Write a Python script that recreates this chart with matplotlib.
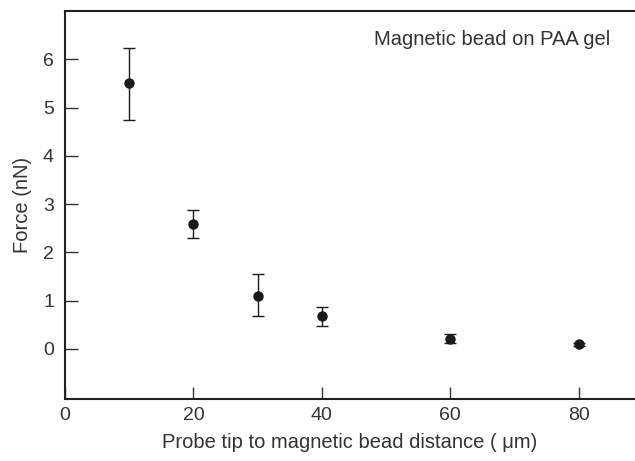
import matplotlib
matplotlib.use("Agg")
import matplotlib.pyplot as plt

distance = [10, 20, 30, 40, 60, 80]
force = [5.50, 2.58, 1.10, 0.68, 0.20, 0.09]
err_upper = [6.24, 2.87, 1.55, 0.86, 0.30, 0.13]
err_lower = [4.75, 2.29, 0.67, 0.48, 0.12, 0.06]
x_ticks = [0, 20, 40, 60, 80]
y_ticks = [0, 1, 2, 3, 4, 5, 6]

plt.rcParams['font.family'] = ['Liberation Sans', 'DejaVu Sans']
fig = plt.figure(figsize=(6.35, 4.61), dpi=100)
ax = fig.add_axes([0.1024, 0.1345, 0.8976, 0.8415])

yerr = [[f - lo for f, lo in zip(force, err_lower)],
        [hi - f for f, hi in zip(force, err_upper)]]
ax.errorbar(distance, force, yerr=yerr, fmt='o', color='#1a1a1a', ms=6.5,
            elinewidth=1.0, capsize=4, capthick=1.0)

ax.set_xlim(0, 88.8)
ax.set_ylim(-1.04, 7.0)
ax.set_xticks(x_ticks)
ax.set_yticks(y_ticks)
ax.spines['right'].set_visible(False)
for s in ['left', 'bottom', 'top']:
    ax.spines[s].set_linewidth(1.5)
    ax.spines[s].set_color('#222222')
ax.tick_params(direction='in', length=9, width=1.0, colors='#333333',
               labelsize=14, pad=6, top=False, right=False)
ax.tick_params(axis='y', pad=8)

ax.set_xlabel('Probe tip to magnetic bead distance ( μm)', fontsize=14.5, color='#333333', labelpad=6)
ax.set_ylabel('Force (nN)', fontsize=14.5, color='#333333', labelpad=8)
ax.text(48.1, 6.41, 'Magnetic bead on PAA gel', fontsize=14.5, color='#333333',
        va='center', ha='left')

fig.savefig('out.png', dpi=100)
